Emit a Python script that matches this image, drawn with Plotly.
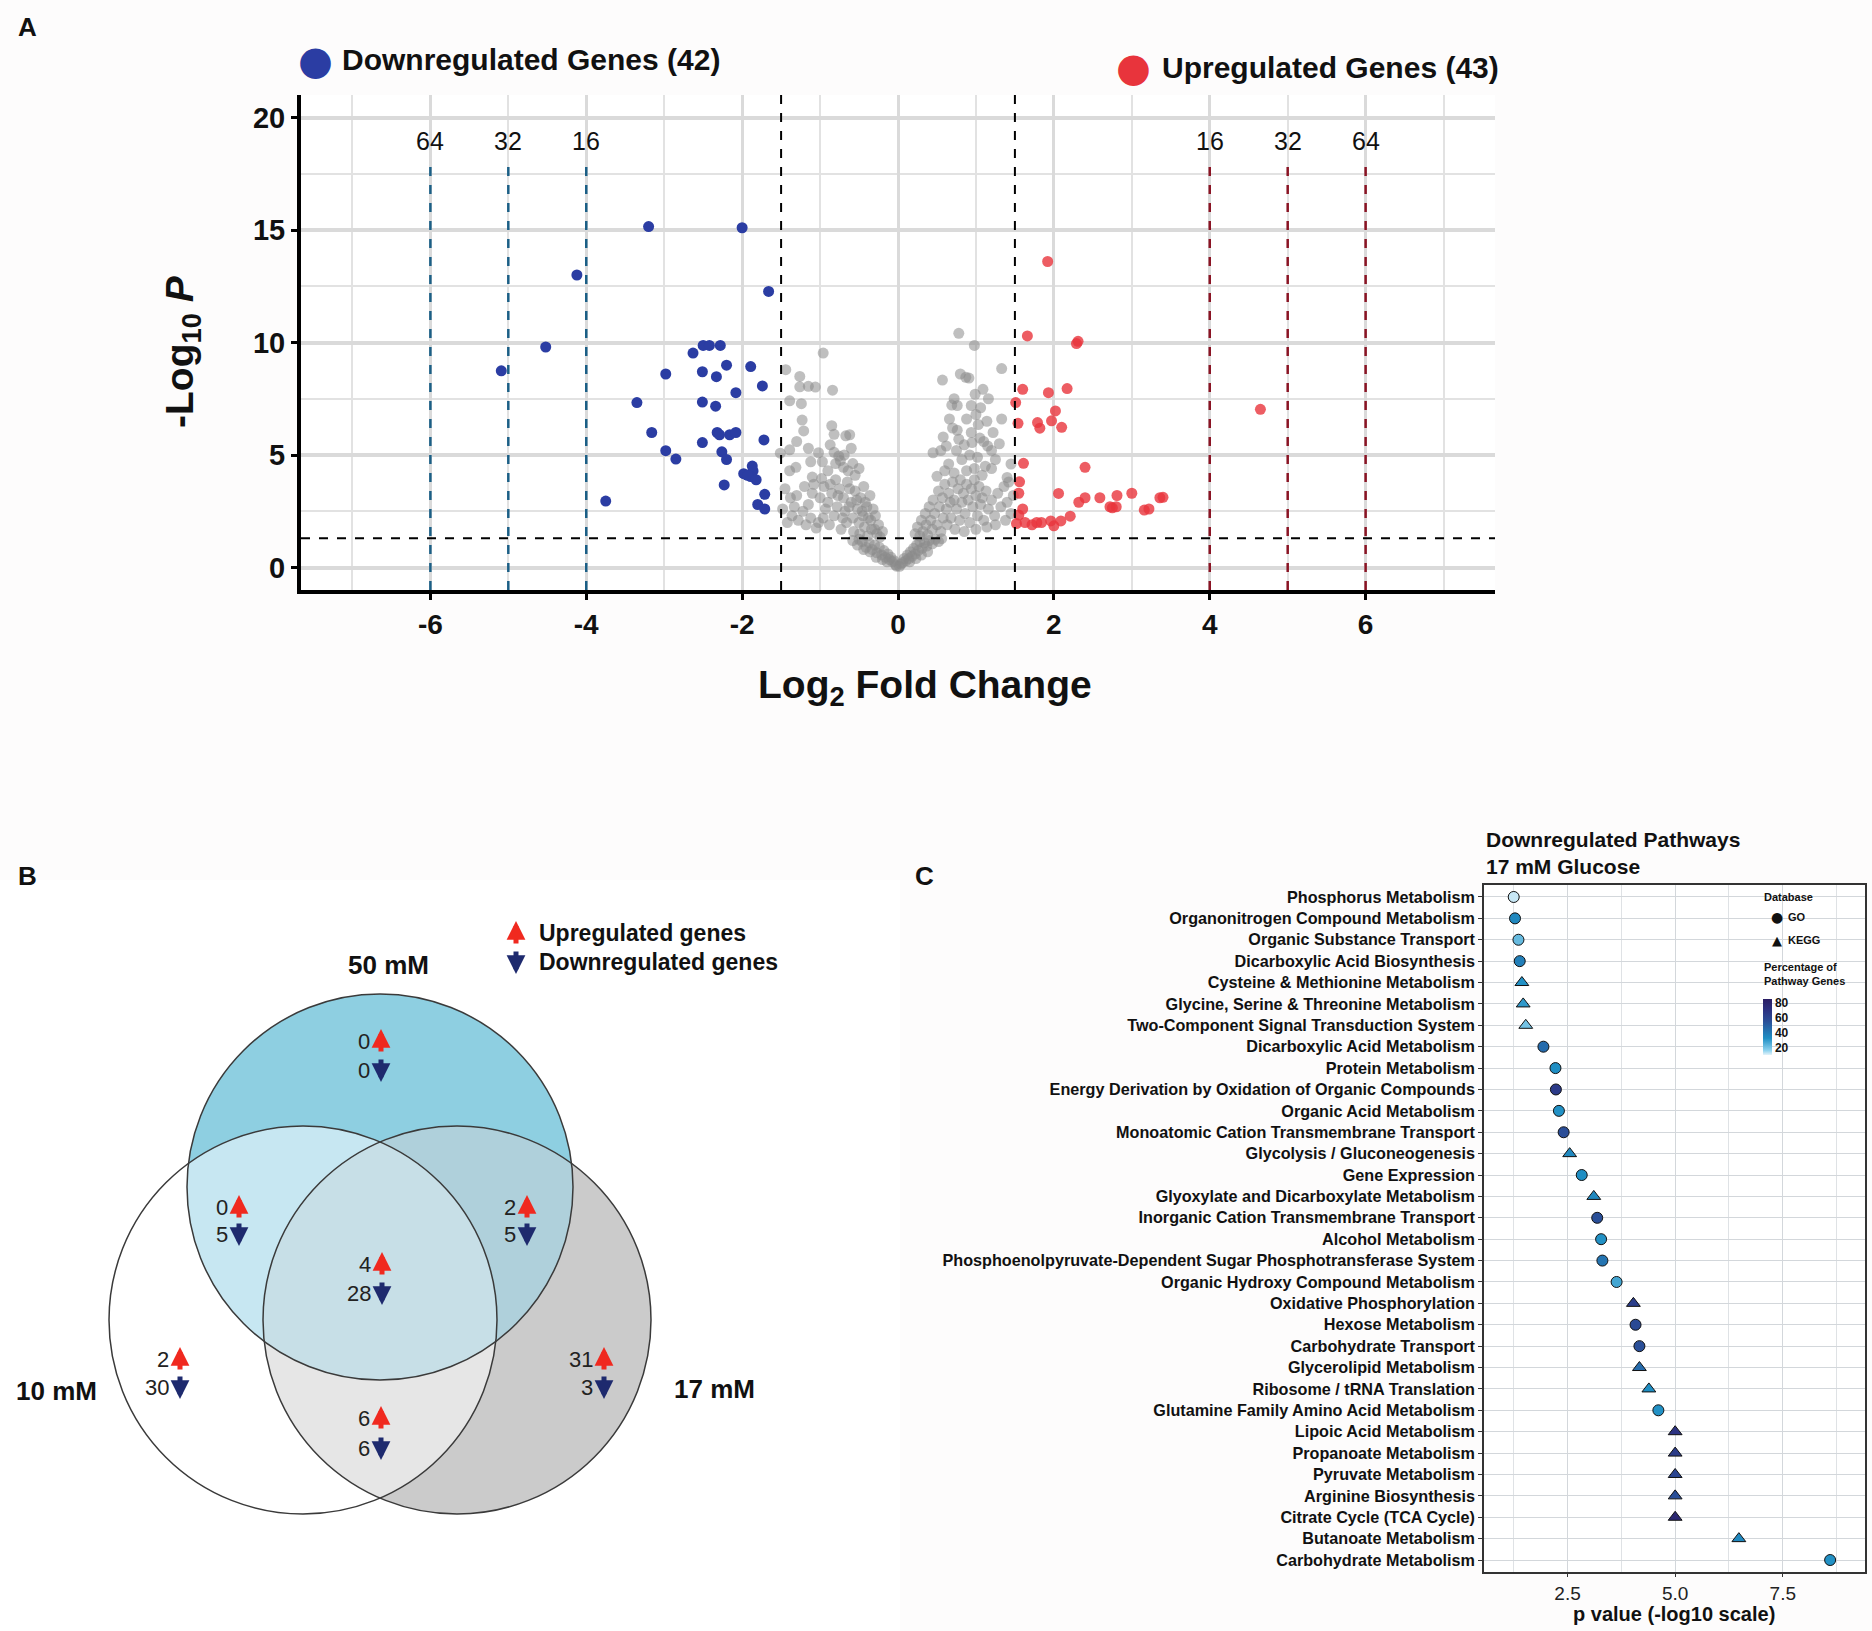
import numpy as np
import plotly.graph_objects as go

W, H = 1872, 1631
FONT = "Liberation Sans, Arial, sans-serif"

# ---------------- Panel A data (volcano) ----------------
down_lfc = [-3.20, -2.00, -4.12, -4.52, -5.09, -3.75, -1.66, -2.63, -2.50, -2.42, -2.28, -2.98, -2.51, -2.33,
            -2.20, -1.89, -1.74, -2.08, -3.35, -2.51, -2.34, -3.16, -2.32, -2.29, -2.16, -2.08, -1.72, -2.51,
            -2.98, -2.85, -2.26, -2.20, -1.98, -1.87, -1.86, -1.89, -2.23, -1.71, -1.80, -1.71, -1.93, -1.82]
down_p = [15.15, 15.10, 13.0, 9.80, 8.74, 2.95, 12.27, 9.53, 9.87, 9.87, 9.87, 8.60, 8.70, 8.48,
          8.99, 8.93, 8.07, 7.77, 7.33, 7.35, 7.17, 6.0, 6.0, 5.9, 5.9, 6.0, 5.67, 5.55,
          5.19, 4.82, 5.14, 4.80, 4.17, 4.51, 4.29, 4.04, 3.67, 3.25, 2.80, 2.60, 4.10, 3.90]
up_lfc = [1.92, 1.66, 2.29, 2.31, 1.60, 1.93, 2.17, 1.51, 2.02, 1.54, 1.79, 1.82, 1.97, 2.10, 4.65, 1.61,
          2.40, 1.56, 2.06, 2.40, 2.59, 3.36, 3.40, 1.55, 1.63, 1.72, 1.84, 1.96, 2.09, 2.21, 2.32, 2.81,
          3.00, 3.16, 3.22, 2.80, 2.75, 1.60, 1.78, 1.55, 1.52, 2.00, 2.72]
up_p = [13.6, 10.29, 9.95, 10.05, 7.92, 7.77, 7.95, 7.33, 6.96, 6.41, 6.44, 6.19, 6.52, 6.23, 7.03, 4.63,
        4.45, 3.81, 3.29, 3.10, 3.10, 3.10, 3.12, 2.33, 2.0, 1.9, 2.0, 2.07, 2.07, 2.28, 2.9, 3.2,
        3.3, 2.55, 2.6, 2.7, 2.65, 2.6, 2.0, 3.3, 1.95, 1.85, 2.7]
gray_pts = [
    (-0.96, 9.53), (-1.44, 8.79), (-1.26, 8.49), (-1.26, 8.03), (-1.15, 8.05), (-1.06, 8.02), (-0.84, 7.88),
    (-1.39, 7.41), (-1.24, 7.28), (-1.23, 6.55), (-1.21, 6.07), (-0.85, 6.3), (-0.82, 5.92), (-0.62, 5.9),
    (-0.67, 5.85), (-1.39, 5.23), (-1.51, 5.08), (-1.15, 5.3), (-1.02, 5.1), (-0.87, 5.45), (-0.82, 5.12),
    (-1.39, 4.3), (-1.31, 4.45), (-1.1, 4.02), (-0.98, 3.95), (-0.9, 4.3), (-0.8, 4.62), (-0.74, 4.75),
    (-0.7, 4.45), (-0.64, 4.3), (-0.58, 4.62), (-0.76, 4.95), (-0.69, 5.0), (-0.6, 5.3), (-0.55, 4.1),
    (-0.5, 4.4), (-1.12, 4.7), (-1.3, 5.6),
    (-1.45, 3.5), (-1.48, 2.6), (-1.38, 3.1), (-1.3, 3.2), (-1.2, 3.6), (-1.22, 2.5), (-1.1, 3.3),
    (-1.12, 2.2), (-1.0, 3.1), (-1.02, 2.0), (-0.95, 3.6), (-0.93, 2.6), (-0.9, 2.9), (-0.88, 1.9),
    (-0.85, 3.3), (-0.8, 3.9), (-0.82, 2.3), (-0.78, 2.7), (-0.75, 3.5), (-0.73, 1.7), (-0.7, 3.1),
    (-0.68, 2.5), (-0.66, 2.0), (-0.65, 3.8), (-0.62, 3.5), (-0.6, 2.9), (-0.58, 2.2), (-0.57, 1.6),
    (-0.55, 3.4), (-0.53, 3.0), (-0.52, 2.6), (-0.5, 2.0), (-0.49, 1.5), (-0.48, 3.1), (-0.46, 2.5),
    (-0.45, 2.3), (-0.44, 3.6), (-0.43, 1.8), (-0.42, 2.9), (-0.4, 2.7), (-0.39, 1.4), (-0.38, 2.2),
    (-0.36, 3.2), (-0.35, 2.1), (-0.34, 1.7), (-0.32, 2.6), (-0.3, 1.7), (-0.29, 2.3), (-0.27, 1.5),
    (-0.25, 1.9), (-0.23, 1.35), (-0.2, 1.6), (-0.97, 4.7), (-1.05, 1.75), (-1.18, 1.9), (-1.28, 2.1),
    (-1.36, 2.3), (-1.42, 2.0), (-0.87, 3.7), (-0.77, 3.2), (-0.63, 2.7), (-0.71, 2.2), (-0.96, 2.2),
    (-1.15, 2.8), (-1.33, 2.7), (-1.08, 3.7),
    (-0.58, 1.2), (-0.52, 1.0), (-0.46, 1.15), (-0.41, 0.9), (-0.37, 1.1), (-0.33, 0.8), (-0.3, 1.0),
    (-0.27, 0.65), (-0.24, 0.9), (-0.21, 0.55), (-0.18, 0.75), (-0.16, 0.45), (-0.13, 0.6), (-0.11, 0.35),
    (-0.09, 0.45), (-0.07, 0.25), (-0.05, 0.3), (-0.03, 0.12), (-0.02, 0.06), (-0.36, 0.7), (-0.28, 0.45),
    (-0.2, 0.35), (-0.14, 0.25), (-0.44, 0.8), (-0.5, 1.25),
    (0.02, 0.05), (0.04, 0.15), (0.06, 0.22), (0.08, 0.4), (0.1, 0.3), (0.12, 0.55), (0.14, 0.4),
    (0.16, 0.7), (0.18, 0.5), (0.2, 0.85), (0.22, 0.6), (0.24, 1.0), (0.26, 0.75), (0.28, 1.15),
    (0.31, 0.85), (0.34, 1.1), (0.37, 0.95), (0.4, 1.2), (0.44, 1.05), (0.48, 1.25), (0.52, 1.15),
    (0.56, 1.28), (0.15, 0.25), (0.23, 0.4), (0.3, 0.55), (0.38, 0.7),
    (0.22, 1.5), (0.25, 1.8), (0.28, 1.4), (0.3, 2.1), (0.32, 1.6), (0.35, 2.4), (0.36, 1.9), (0.38, 1.45),
    (0.4, 2.7), (0.42, 2.1), (0.44, 1.7), (0.45, 3.0), (0.47, 2.4), (0.5, 1.9), (0.52, 3.4), (0.53, 2.7),
    (0.55, 1.6), (0.57, 3.1), (0.58, 2.2), (0.6, 3.7), (0.62, 2.6), (0.63, 1.9), (0.65, 3.3), (0.67, 2.9),
    (0.68, 2.2), (0.7, 3.8), (0.72, 3.0), (0.73, 1.7), (0.75, 2.6), (0.77, 3.5), (0.79, 2.1), (0.8, 3.9),
    (0.82, 2.9), (0.84, 3.3), (0.86, 2.4), (0.88, 3.7), (0.9, 3.0), (0.92, 2.0), (0.94, 3.5), (0.96, 2.7),
    (0.98, 3.9), (1.0, 3.2), (1.02, 2.3), (1.04, 3.6), (1.06, 2.8), (1.08, 3.1), (1.1, 2.1), (1.13, 3.4),
    (1.16, 2.6), (1.2, 3.0), (1.24, 2.3), (1.28, 3.3), (1.32, 2.7), (1.36, 3.6), (1.4, 2.9), (1.45, 2.4),
    (1.48, 3.2), (1.14, 1.8), (1.25, 1.9), (1.38, 2.1), (0.85, 1.6), (1.0, 1.7),
    (0.78, 10.41), (0.98, 9.87), (1.33, 8.84), (0.80, 8.6), (0.91, 8.42), (0.87, 8.45), (0.57, 8.33),
    (1.09, 7.92), (0.99, 7.7), (1.16, 7.5), (0.72, 7.5), (0.76, 7.2), (0.69, 7.22), (0.94, 7.2),
    (1.06, 7.1), (1.33, 6.6), (1.14, 6.5), (1.03, 6.35), (0.94, 6.0), (0.70, 6.2), (0.76, 6.1), (1.2, 5.2),
    (1.15, 5.4), (1.05, 5.75), (0.45, 5.1), (0.55, 5.2), (0.62, 5.4), (0.75, 5.2), (0.85, 5.45),
    (0.95, 5.55), (1.1, 5.6), (1.2, 4.4), (0.98, 4.4), (1.08, 4.1), (1.4, 4.0), (1.45, 4.6), (0.65, 4.6),
    (0.72, 4.2), (0.82, 4.8), (0.88, 4.3), (0.92, 5.0), (1.02, 4.9), (1.25, 4.8), (0.6, 4.3), (0.5, 4.05),
    (0.78, 5.7), (0.88, 6.6), (1.0, 6.8), (0.66, 6.6), (1.22, 6.0), (1.3, 5.5), (1.42, 3.8), (1.12, 4.5),
    (0.58, 5.8),
]
gray_lfc = [p[0] for p in gray_pts]
gray_p = [p[1] for p in gray_pts]
n_down, n_up = 42, 43
fc_marks = [16, 32, 64]
lfc_cut = 1.5
p_cut = 0.05
x_ticks = [-6, -4, -2, 0, 2, 4, 6]

# ---------------- Panel B data (Venn) ----------------
venn_sets = ["50 mM", "10 mM", "17 mM"]
venn_regions = ["50 only", "50&10", "50&17", "all", "10 only", "17 only", "10&17"]
venn_up = [0, 0, 2, 4, 2, 31, 6]
venn_down = [0, 5, 5, 28, 30, 3, 6]

# ---------------- Panel C data (pathways) ----------------
pathways = ["Phosphorus Metabolism", "Organonitrogen Compound Metabolism", "Organic Substance Transport",
            "Dicarboxylic Acid Biosynthesis", "Cysteine & Methionine Metabolism",
            "Glycine, Serine & Threonine Metabolism", "Two-Component Signal Transduction System",
            "Dicarboxylic Acid Metabolism", "Protein Metabolism",
            "Energy Derivation by Oxidation of Organic Compounds", "Organic Acid Metabolism",
            "Monoatomic Cation Transmembrane Transport", "Glycolysis / Gluconeogenesis", "Gene Expression",
            "Glyoxylate and Dicarboxylate Metabolism", "Inorganic Cation Transmembrane Transport",
            "Alcohol Metabolism", "Phosphoenolpyruvate-Dependent Sugar Phosphotransferase System",
            "Organic Hydroxy Compound Metabolism", "Oxidative Phosphorylation", "Hexose Metabolism",
            "Carbohydrate Transport", "Glycerolipid Metabolism", "Ribosome / tRNA Translation",
            "Glutamine Family Amino Acid Metabolism", "Lipoic Acid Metabolism", "Propanoate Metabolism",
            "Pyruvate Metabolism", "Arginine Biosynthesis", "Citrate Cycle (TCA Cycle)",
            "Butanoate Metabolism", "Carbohydrate Metabolism"]
path_p = [1.25, 1.28, 1.36, 1.39, 1.44, 1.47, 1.53, 1.94, 2.22, 2.23, 2.30, 2.41, 2.55, 2.83, 3.11, 3.19,
          3.28, 3.31, 3.64, 4.03, 4.08, 4.17, 4.17, 4.39, 4.61, 5.0, 5.0, 5.0, 5.0, 5.0, 6.48, 8.6]
path_db = ["GO", "GO", "GO", "GO", "KEGG", "KEGG", "KEGG", "GO", "GO", "GO", "GO", "GO", "KEGG", "GO",
           "KEGG", "GO", "GO", "GO", "GO", "KEGG", "GO", "GO", "KEGG", "KEGG", "GO", "KEGG", "KEGG",
           "KEGG", "KEGG", "KEGG", "KEGG", "GO"]
path_pct = [12, 35, 22, 38, 32, 30, 20, 45, 33, 66, 32, 56, 35, 33, 35, 55, 32, 42, 27, 64, 58, 55, 45,
            33, 32, 70, 65, 60, 55, 78, 35, 32]
pct_ticks = [20, 40, 60, 80]
p_ticks = [2.5, 5.0, 7.5]


# ---------------- helpers ----------------
def xd(a, b):
    return [a / W, b / W]


def yd(top, bottom):
    return [1 - bottom / H, 1 - top / H]


def px(x):
    return x / W


def py(y):
    return 1 - y / H


anns = []
shapes = []
fig = go.Figure()

# ================= Panel A =================
fig.add_trace(go.Scatter(x=gray_lfc, y=gray_p, mode="markers", xaxis="x", yaxis="y",
                         marker=dict(size=11, color="rgba(138,138,138,0.55)", line=dict(width=0)),
                         showlegend=False, hoverinfo="skip"))
fig.add_trace(go.Scatter(x=down_lfc, y=down_p, mode="markers", xaxis="x", yaxis="y",
                         marker=dict(size=11, color="#2b3da3", line=dict(width=0)), showlegend=False))
fig.add_trace(go.Scatter(x=up_lfc, y=up_p, mode="markers", xaxis="x", yaxis="y",
                         marker=dict(size=11, color="rgba(232,52,60,0.8)", line=dict(width=0)),
                         showlegend=False))

XR = [-7.66, 7.66]
YR = [-1.0, 21.0]
for s in (-1, 1):
    shapes.append(dict(type="line", xref="x", yref="y", x0=s * lfc_cut, x1=s * lfc_cut, y0=YR[0], y1=YR[1],
                       line=dict(color="black", width=2, dash="dash")))
pc = -np.log10(p_cut)
shapes.append(dict(type="line", xref="x", yref="y", x0=XR[0], x1=XR[1], y0=pc, y1=pc,
                   line=dict(color="black", width=2, dash="dash")))
for fc in fc_marks:
    lv = np.log2(fc)
    for s, col in ((-1, "#1b5f86"), (1, "#8a1424")):
        shapes.append(dict(type="line", xref="x", yref="y", x0=s * lv, x1=s * lv, y0=YR[0], y1=18.0,
                           line=dict(color=col, width=2.5, dash="dash")))
        anns.append(dict(xref="x", yref="y", x=s * lv, y=18.95, text=str(fc), showarrow=False,
                         font=dict(family=FONT, size=25, color="#111")))

# legend (panel A)
anns.append(dict(xref="paper", yref="paper", x=px(315), y=py(60), text="●", showarrow=False,
                 font=dict(family="DejaVu Sans", size=40, color="#2b3da3"), xanchor="center", yanchor="middle"))
anns.append(dict(xref="paper", yref="paper", x=px(340), y=py(60),
                 text=f"<b>Downregulated Genes ({n_down})</b>", showarrow=False,
                 font=dict(family=FONT, size=30, color="#111"), xanchor="left", yanchor="middle"))
anns.append(dict(xref="paper", yref="paper", x=px(1133), y=py(67), text="●", showarrow=False,
                 font=dict(family="DejaVu Sans", size=40, color="#e8343c"), xanchor="center", yanchor="middle"))
anns.append(dict(xref="paper", yref="paper", x=px(1160), y=py(67),
                 text=f"<b>Upregulated Genes ({n_up})</b>", showarrow=False,
                 font=dict(family=FONT, size=30, color="#111"), xanchor="left", yanchor="middle"))
# axis titles (panel A)
anns.append(dict(xref="paper", yref="paper", x=px(925), y=py(687),
                 text="<b>Log<sub>2</sub> Fold Change</b>", showarrow=False,
                 font=dict(family=FONT, size=39, color="#111"), xanchor="center", yanchor="middle"))
anns.append(dict(xref="paper", yref="paper", x=px(183), y=py(352),
                 text="<b>-Log<sub>10</sub> <i>P</i></b>", showarrow=False, textangle=-90,
                 font=dict(family=FONT, size=39, color="#111"), xanchor="center", yanchor="middle"))

# ================= Panel B (Venn) =================
circles = {"50": (380.0, 1187.0, 193.0), "10": (303.0, 1320.0, 194.0), "17": (457.0, 1320.0, 194.0)}


def circle_poly(cx, cy, r, n=720):
    t = np.linspace(0, 2 * np.pi, n, endpoint=False)
    return cx + r * np.cos(t), cy + r * np.sin(t)


def convex_region(ids):
    xs, ys = [], []
    for i in ids:
        cx, cy, r = circles[i]
        qx, qy = circle_poly(cx, cy, r)
        m = np.ones(qx.shape, bool)
        for j in ids:
            if j == i:
                continue
            c2x, c2y, r2 = circles[j]
            m &= (qx - c2x) ** 2 + (qy - c2y) ** 2 <= r2 ** 2 + 1e-6
        xs.extend(qx[m])
        ys.extend(qy[m])
    xs, ys = np.array(xs), np.array(ys)
    o = np.argsort(np.arctan2(ys - ys.mean(), xs - xs.mean()))
    xs, ys = xs[o], ys[o]
    return list(xs) + [xs[0]], list(ys) + [ys[0]]


layers = [(["17"], "#cbcbcb"), (["10"], "#ffffff"), (["50"], "#8ecfe1"),
          (["10", "17"], "#e6e6e6"), (["50", "10"], "#c7e7f2"), (["50", "17"], "#afd0db"),
          (["50", "10", "17"], "#c7dfe7")]
for ids, col in layers:
    rx, ry = convex_region(ids)
    fig.add_trace(go.Scatter(x=rx, y=ry, mode="lines", fill="toself", fillcolor=col,
                             line=dict(width=0, color=col), xaxis="x2", yaxis="y2",
                             showlegend=False, hoverinfo="skip"))
for k, (cx, cy, r) in circles.items():
    shapes.append(dict(type="circle", xref="x2", yref="y2", x0=cx - r, x1=cx + r, y0=cy - r, y1=cy + r,
                       line=dict(color="#3a3a3a", width=1.5)))

# set labels
anns.append(dict(xref="x2", yref="y2", x=388, y=965, text=f"<b>{venn_sets[0]}</b>", showarrow=False,
                 font=dict(family=FONT, size=26, color="#111")))
anns.append(dict(xref="x2", yref="y2", x=56, y=1391, text=f"<b>{venn_sets[1]}</b>", showarrow=False,
                 font=dict(family=FONT, size=26, color="#111")))
anns.append(dict(xref="x2", yref="y2", x=714, y=1389, text=f"<b>{venn_sets[2]}</b>", showarrow=False,
                 font=dict(family=FONT, size=26, color="#111")))

UPC, DNC = "#f0291f", "#1e2a6e"


def arrow(x, y, up, ref=("x2", "y2")):
    # y is the centre of the arrow
    if up:
        return dict(xref=ref[0], yref=ref[1], x=x, y=y - 12, ax=0, ay=24, text="", showarrow=True,
                    arrowhead=2, arrowsize=0.75, arrowwidth=5, arrowcolor=UPC, standoff=0, startstandoff=0)
    return dict(xref=ref[0], yref=ref[1], x=x, y=y + 12, ax=0, ay=-24, text="", showarrow=True,
                arrowhead=2, arrowsize=0.75, arrowwidth=5, arrowcolor=DNC, standoff=0, startstandoff=0)


# region label positions: (arrow x, row1 y, row2 y)
venn_pos = [(381, 1041, 1070), (239, 1207, 1234), (527, 1207, 1234), (382, 1264, 1293),
            (180, 1359, 1387), (604, 1359, 1387), (381, 1418, 1448)]
for (ax_, y1, y2), nu, nd in zip(venn_pos, venn_up, venn_down):
    anns.append(dict(xref="x2", yref="y2", x=ax_ - 9, y=y1, text=str(nu), showarrow=False, xanchor="right",
                     font=dict(family=FONT, size=22, color="#222")))
    anns.append(dict(xref="x2", yref="y2", x=ax_ - 9, y=y2, text=str(nd), showarrow=False, xanchor="right",
                     font=dict(family=FONT, size=22, color="#222")))
    anns.append(arrow(ax_, y1, True))
    anns.append(arrow(ax_, y2, False))

# Venn legend
anns.append(arrow(516, 933, True))
anns.append(arrow(516, 962, False))
anns.append(dict(xref="x2", yref="y2", x=537, y=933, text="<b>Upregulated genes</b>", showarrow=False,
                 xanchor="left", font=dict(family=FONT, size=23, color="#111")))
anns.append(dict(xref="x2", yref="y2", x=537, y=962, text="<b>Downregulated genes</b>", showarrow=False,
                 xanchor="left", font=dict(family=FONT, size=23, color="#111")))

# ================= Panel C =================
cscale = [[0.0, "#e4f3fa"], [0.08, "#8fd3ef"], [0.3, "#1f8fc4"], [0.6, "#2a4f98"], [0.8, "#2c3282"],
          [1.0, "#2a1d63"]]
for dbname, sym in (("GO", "circle"), ("KEGG", "triangle-up")):
    idx = [i for i, d in enumerate(path_db) if d == dbname]
    fig.add_trace(go.Scatter(x=[path_p[i] for i in idx], y=[pathways[i] for i in idx], mode="markers",
                             xaxis="x3", yaxis="y3", showlegend=False,
                             marker=dict(symbol=sym, size=11 if sym == "circle" else 12,
                                         color=[path_pct[i] for i in idx], coloraxis="coloraxis",
                                         line=dict(color="#111", width=1))))

anns.append(dict(xref="paper", yref="paper", x=px(1484), y=py(839), text="<b>Downregulated Pathways</b>",
                 showarrow=False, xanchor="left", yanchor="middle", font=dict(family=FONT, size=21, color="#111")))
anns.append(dict(xref="paper", yref="paper", x=px(1484), y=py(866), text="<b>17 mM Glucose</b>",
                 showarrow=False, xanchor="left", yanchor="middle", font=dict(family=FONT, size=21, color="#111")))
anns.append(dict(xref="paper", yref="paper", x=px(1674), y=py(1614), text="<b>p value (-log10 scale)</b>",
                 showarrow=False, xanchor="center", yanchor="middle", font=dict(family=FONT, size=20, color="#111")))
# legend panel C
anns.append(dict(xref="paper", yref="paper", x=px(1762), y=py(897), text="<b>Database</b>", showarrow=False,
                 xanchor="left", yanchor="middle", font=dict(family=FONT, size=11, color="#111")))
anns.append(dict(xref="paper", yref="paper", x=px(1777), y=py(917), text="●", showarrow=False,
                 xanchor="center", yanchor="middle", font=dict(family="DejaVu Sans", size=14, color="#111")))
anns.append(dict(xref="paper", yref="paper", x=px(1786), y=py(917), text="<b>GO</b>", showarrow=False,
                 xanchor="left", yanchor="middle", font=dict(family=FONT, size=11, color="#111")))
anns.append(dict(xref="paper", yref="paper", x=px(1777), y=py(940), text="▲", showarrow=False,
                 xanchor="center", yanchor="middle", font=dict(family="DejaVu Sans", size=13, color="#111")))
anns.append(dict(xref="paper", yref="paper", x=px(1786), y=py(940), text="<b>KEGG</b>", showarrow=False,
                 xanchor="left", yanchor="middle", font=dict(family=FONT, size=11, color="#111")))
anns.append(dict(xref="paper", yref="paper", x=px(1762), y=py(974), text="<b>Percentage of<br>Pathway Genes</b>",
                 showarrow=False, xanchor="left", yanchor="middle", align="left",
                 font=dict(family=FONT, size=11, color="#111")))

# panel letters
for lab, (lx, ly) in (("A", (27, 27)), ("B", (27, 876)), ("C", (924, 876))):
    anns.append(dict(xref="paper", yref="paper", x=px(lx), y=py(ly), text=f"<b>{lab}</b>", showarrow=False,
                     xanchor="center", yanchor="middle", font=dict(family=FONT, size=26, color="#111")))

ncat = len(pathways)
fig.update_layout(
    width=W, height=H, autosize=False, margin=dict(l=0, r=0, t=0, b=0),
    paper_bgcolor="#fdfcfc", plot_bgcolor="white", showlegend=False,
    font=dict(family=FONT, color="#111"),
    xaxis=dict(domain=xd(301, 1495), range=XR, tickvals=x_ticks, ticktext=[str(v) for v in x_ticks],
               showgrid=True, gridcolor="#dadada", gridwidth=3,
               minor=dict(tickvals=[-7, -5, -3, -1, 1, 3, 5, 7], showgrid=True, gridcolor="#e2e2e2",
                          gridwidth=2, ticks=""),
               zeroline=False, showline=True, linecolor="black", linewidth=4, ticks="outside", ticklen=6,
               tickwidth=3, tickcolor="black", tickfont=dict(family=FONT, size=28, color="#111", weight="bold"),
               anchor="y"),
    yaxis=dict(domain=yd(95, 590), range=YR, tick0=0, dtick=5, showgrid=True, gridcolor="#dadada",
               gridwidth=3.5, minor=dict(dtick=2.5, tick0=0, showgrid=True, gridcolor="#e2e2e2", gridwidth=2),
               zeroline=False, showline=True, linecolor="black", linewidth=4, ticks="outside", ticklen=6,
               tickwidth=3, tickcolor="black", tickfont=dict(family=FONT, size=29, color="#111", weight="bold"),
               anchor="x"),
    xaxis2=dict(domain=xd(0, 900), range=[0, 900], visible=False, anchor="y2"),
    yaxis2=dict(domain=yd(880, 1631), range=[1631, 880], visible=False, anchor="x2"),
    xaxis3=dict(domain=xd(1484, 1865), range=[0.56, 9.41], tickvals=p_ticks,
                ticktext=[f"{v:.1f}" for v in p_ticks], showgrid=True, gridcolor="#d3d7db", gridwidth=1,
                minor=dict(tickvals=[1.25, 3.75, 6.25, 8.75], showgrid=True, gridcolor="#dfe2e5", gridwidth=1),
                zeroline=False, showline=True, mirror=True, linecolor="#333", linewidth=1.5,
                ticks="outside", ticklen=3, tickcolor="#333",
                tickfont=dict(family=FONT, size=19, color="#222"), anchor="y3"),
    yaxis3=dict(domain=yd(885, 1572), type="category", categoryorder="array", categoryarray=pathways,
                range=[ncat - 1 + 0.56, -0.56], showgrid=True, gridcolor="#d3d7db", gridwidth=1,
                zeroline=False, showline=True, mirror=True, linecolor="#333", linewidth=1.5,
                ticks="outside", ticklen=4, tickcolor="#333",
                tickfont=dict(family=FONT, size=16.2, color="#111", weight="bold"), anchor="x3"),
    coloraxis=dict(colorscale=cscale, cmin=10, cmax=85,
                   colorbar=dict(x=px(1763), xanchor="left", y=py(1027), yanchor="middle", len=56,
                                 lenmode="pixels", thickness=9, tickvals=pct_ticks, ticks="",
                                 outlinewidth=0, xpad=0, ypad=0, ticklabelposition="outside",
                                 tickfont=dict(family=FONT, size=12, color="#111", weight="bold"))),
    annotations=anns, shapes=shapes,
)

fig.write_html("out.html", config={"displayModeBar": False},
               post_script="document.body.style.margin='0';document.body.style.padding='0';"
                           "document.documentElement.style.overflow='hidden';")
